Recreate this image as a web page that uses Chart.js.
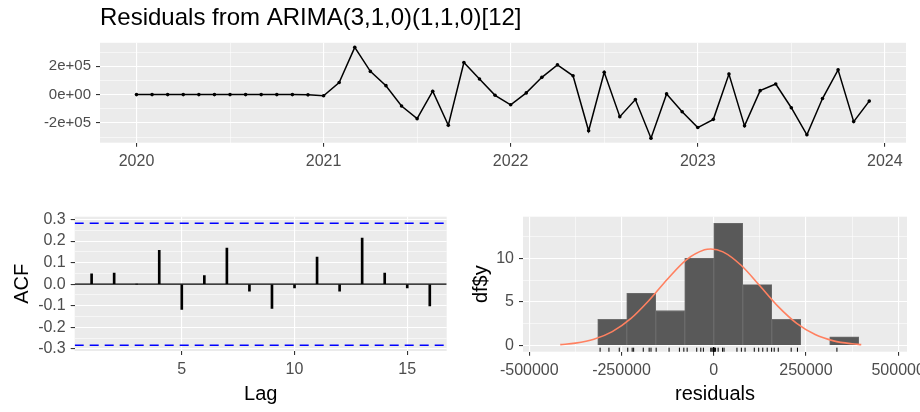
<!DOCTYPE html>
<html lang="en">
  <head>
    <meta charset="UTF-8" />
    <title>Residuals from ARIMA(3,1,0)(1,1,0)[12]</title>
    <style>
      html, body { margin: 0; padding: 0; background: #ffffff; }
      body { width: 920px; height: 412px; position: relative; overflow: hidden; }
      .box { position: absolute; }
      #topBox { left: 0; top: 0; width: 920px; height: 180px; }
      #acfBox { left: 0; top: 180px; width: 460px; height: 232px; }
      #histBox { left: 460px; top: 180px; width: 460px; height: 232px; }
    </style>
  </head>
  <body>
    <div class="box" id="topBox"><canvas id="resChart"></canvas></div>
    <div class="box" id="acfBox"><canvas id="acfChart"></canvas></div>
    <div class="box" id="histBox"><canvas id="histChart"></canvas></div>

    <script src="https://cdn.jsdelivr.net/npm/chart.js"></script>
    <script>
      // residuals, monthly from Jan 2020
      var startYear = 2020;
      var residuals = [
        0, 0, 0, 0, 0, 0, 0, 0, 0, 0, 0, -2000,
        -8000, 85000, 334000, 164000, 63000, -81000, -170000, 24000, -217000, 227000, 110000, -5000,
        -72000, 12000, 122000, 210000, 133000, -256000, 157000, -156000, -35000, -308000, 5000, -121000,
        -233000, -175000, 145000, -221000, 28000, 75000, -93000, -284000, -28000, 175000, -191000, -46000
      ];
      var yearBreaks = [2020, 2021, 2022, 2023, 2024];
      var yearLabels = ["2020", "2021", "2022", "2023", "2024"];
      var yearMinor = [2020.5, 2021.5, 2022.5, 2023.5];
      var resBreaks = [-200000, 0, 200000];
      var resLabels = ["-2e+05", "0e+00", "2e+05"];
      var resMinor = [-300000, -100000, 100000, 300000];

      // ACF
      var acfLags = [1, 2, 3, 4, 5, 6, 7, 8, 9, 10, 11, 12, 13, 14, 15, 16];
      var acfValues = [0.048, 0.052, 0.0, 0.157, -0.117, 0.040, 0.168, -0.032,
                       -0.112, -0.017, 0.126, -0.032, 0.214, 0.052, -0.017, -0.101];
      var acfBound = 0.283;
      var acfXBreaks = [5, 10, 15];
      var acfXLabels = ["5", "10", "15"];
      var acfYBreaks = [-0.3, -0.2, -0.1, 0, 0.1, 0.2, 0.3];
      var acfYLabels = ["-0.3", "-0.2", "-0.1", "0.0", "0.1", "0.2", "0.3"];
      var acfYMinor = [-0.25, -0.15, -0.05, 0.05, 0.15, 0.25];

      // histogram of residuals
      var binWidth = 78600;
      var binLefts = [-314400, -235800, -157200, -78600, 0, 78600, 157200, 235800, 314400];
      var binCounts = [3, 6, 4, 10, 14, 7, 3, 0, 1];
      var normX = [-416000, -375000, -325000, -275000, -225000, -175000, -125000, -75000, -25000,
                   -8000, 25000, 75000, 125000, 175000, 225000, 275000, 325000, 375000, 400000];
      var normY = [0.12, 0.29, 0.73, 1.61, 3.09, 5.20, 7.63, 9.79, 10.96,
                   11.05, 10.73, 9.17, 6.85, 4.46, 2.55, 1.27, 0.55, 0.21, 0.12];
      var histXBreaks = [-500000, -250000, 0, 250000, 500000];
      var histXLabels = ["-500000", "-250000", "0", "250000", "500000"];
      var histXMinor = [-375000, -125000, 125000, 375000];
      var histYBreaks = [0, 5, 10];
      var histYLabels = ["0", "5", "10"];
      var histYMinor = [2.5, 7.5, 12.5];

      Chart.defaults.font.family = '"Liberation Sans", Arial, sans-serif';
      Chart.defaults.animation = false;
      Chart.defaults.plugins.legend.display = false;
      Chart.defaults.plugins.tooltip.enabled = false;

      // grey panel behind the grid
      var panelBg = {
        id: "panelBg",
        beforeDraw: function (chart) {
          var a = chart.chartArea;
          var ctx = chart.ctx;
          ctx.save();
          ctx.fillStyle = "#EBEBEB";
          ctx.fillRect(a.left, a.top, a.right - a.left, a.bottom - a.top);
          ctx.restore();
        },
      };

      function axis(o) {
        var all = o.major.concat(o.minor || []).sort(function (a, b) { return a - b; });
        function majorIndex(v) {
          for (var i = 0; i < o.major.length; i++) {
            if (Math.abs(o.major[i] - v) < 1e-9 * Math.max(1, Math.abs(v))) return i;
          }
          return -1;
        }
        var cfg = {
          type: "linear",
          position: o.position,
          min: o.min,
          max: o.max,
          offset: false,
          afterBuildTicks: function (s) {
            s.ticks = all.map(function (v) { return { value: v }; });
          },
          afterFit: function (s) {
            if (o.position === "left") {
              s.width = o.size;
              s.paddingTop = 0;
              s.paddingBottom = 0;
            } else {
              s.height = o.size;
              s.paddingLeft = 0;
              s.paddingRight = 0;
            }
          },
          grid: {
            offset: false,
            color: "#FFFFFF",
            lineWidth: function (c) { return majorIndex(c.tick.value) >= 0 ? 1.1 : 0.55; },
            drawTicks: true,
            tickLength: 4,
            tickWidth: 1.1,
            tickColor: function (c) { return majorIndex(c.tick.value) >= 0 ? "#333333" : "rgba(0,0,0,0)"; },
          },
          border: { display: false },
          ticks: {
            autoSkip: false,
            maxRotation: 0,
            minRotation: 0,
            padding: o.pad || 5,
            color: "#4D4D4D",
            font: { size: o.tickSize || 16 },
            callback: function (v) {
              var i = majorIndex(v);
              return i >= 0 ? o.labels[i] : "";
            },
          },
          title: { display: false },
        };
        if (o.title) {
          cfg.title = {
            display: true,
            text: o.title,
            color: "#000000",
            font: { size: 20 },
            padding: o.titlePad,
          };
        }
        return cfg;
      }

      // residual time plot
      var resPoints = residuals.map(function (r, i) {
        return { x: startYear + i / 12, y: r };
      });
      new Chart(document.getElementById("resChart"), {
        type: "line",
        data: {
          datasets: [
            {
              data: resPoints,
              borderColor: "#000000",
              backgroundColor: "#000000",
              borderWidth: 1.5,
              pointRadius: 1.8,
              pointBorderWidth: 0,
              tension: 0,
            },
          ],
        },
        options: {
          responsive: true,
          maintainAspectRatio: false,
          layout: { padding: { left: 0, right: 14, top: 0, bottom: 0 } },
          plugins: {
            title: {
              display: true,
              text: "Residuals from ARIMA(3,1,0)(1,1,0)[12]",
              align: "start",
              fullSize: false,
              color: "#000000",
              font: { size: 24, weight: "normal" },
              padding: { top: 4, bottom: 10 },
            },
          },
          scales: {
            x: axis({ position: "bottom", min: 2019.805, max: 2024.113, major: yearBreaks, labels: yearLabels, minor: yearMinor, size: 37.3 }),
            y: axis({ position: "left", min: -340000, max: 366000, major: resBreaks, labels: resLabels, minor: resMinor, size: 100, tickSize: 15 }),
          },
        },
        plugins: [panelBg],
      });

      // ACF
      var acfXMin = 0.25, acfXMax = 16.75;
      var acfData = acfLags.map(function (l, i) { return { x: l, y: acfValues[i] }; });
      function hline(y, color, width, dash) {
        return {
          type: "line",
          data: [{ x: acfXMin, y: y }, { x: acfXMax, y: y }],
          borderColor: color,
          borderWidth: width,
          borderDash: dash,
          pointRadius: 0,
        };
      }
      new Chart(document.getElementById("acfChart"), {
        type: "bar",
        data: {
          datasets: [
            hline(0, "#000000", 1.4, []),
            hline(acfBound, "#0000FF", 1.5, [9, 6]),
            hline(-acfBound, "#0000FF", 1.5, [9, 6]),
            {
              type: "bar",
              data: acfData,
              backgroundColor: "#000000",
              barThickness: 2,
            },
          ],
        },
        options: {
          responsive: true,
          maintainAspectRatio: false,
          layout: { padding: { left: 0, right: 13.3, top: 36.7, bottom: 0 } },
          scales: {
            x: axis({ position: "bottom", min: acfXMin, max: acfXMax, major: acfXBreaks, labels: acfXLabels, minor: [], size: 61, title: "Lag", titlePad: { top: 0, bottom: 6 } }),
            y: axis({ position: "left", min: -0.31, max: 0.313, major: acfYBreaks, labels: acfYLabels, minor: acfYMinor, size: 74.7, title: "ACF", titlePad: { top: 10.5, bottom: 0 } }),
          },
        },
        plugins: [panelBg],
      });

      // histogram with normal curve and rug
      var histYMin = -0.69, histYMax = 14.75;
      var histData = binLefts.map(function (b, i) { return { x: b + binWidth / 2, y: binCounts[i] }; });
      var normData = normX.map(function (x, i) { return { x: x, y: normY[i] }; });
      var rugData = residuals.map(function (r) { return { x: r, y: histYMin }; });
      new Chart(document.getElementById("histChart"), {
        type: "bar",
        data: {
          datasets: [
            {
              type: "bar",
              data: histData,
              backgroundColor: "#595959",
              borderColor: "#6E6E6E",
              borderWidth: 0.8,
              barPercentage: 1,
              categoryPercentage: 1,
              order: 3,
            },
            {
              type: "line",
              data: normData,
              borderColor: "#FF8060",
              borderWidth: 1.6,
              pointRadius: 0,
              cubicInterpolationMode: "monotone",
              order: 1,
            },
            {
              type: "scatter",
              data: rugData,
              pointStyle: "line",
              rotation: 90,
              radius: 4,
              borderColor: "#000000",
              borderWidth: 1,
              clip: 0,
              order: 2,
            },
          ],
        },
        options: {
          responsive: true,
          maintainAspectRatio: false,
          layout: { padding: { left: 0, right: 13, top: 36.7, bottom: 0 } },
          scales: {
            x: axis({ position: "bottom", min: -517000, max: 524000, major: histXBreaks, labels: histXLabels, minor: histXMinor, size: 60.3, title: "residuals", titlePad: { top: 0, bottom: 6 } }),
            y: axis({ position: "left", min: histYMin, max: histYMax, major: histYBreaks, labels: histYLabels, minor: histYMinor, size: 63, title: "df$y", titlePad: { top: 9.7, bottom: 0 } }),
          },
        },
        plugins: [panelBg],
      });
    </script>
  </body>
</html>
